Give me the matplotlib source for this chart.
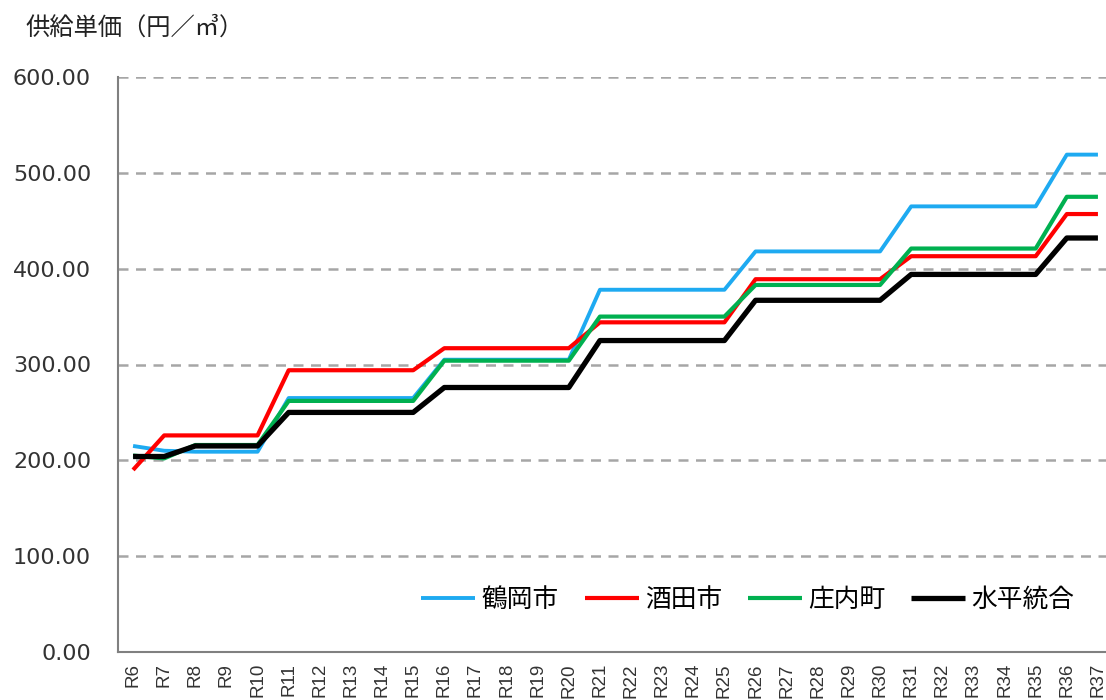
import matplotlib
matplotlib.use("Agg")
import matplotlib.pyplot as plt

plt.rcParams['font.family'] = ['Noto Sans CJK JP', 'DejaVu Sans']

#### Data ####
years = [f"R{i}" for i in range(6, 38)]

tsuruoka = [215, 210, 209, 209, 209,
            265, 265, 265, 265, 265,
            305, 305, 305, 305, 305,
            378, 378, 378, 378, 378,
            418, 418, 418, 418, 418,
            465, 465, 465, 465, 465,
            519, 519]
sakata = [190, 226, 226, 226, 226,
          294, 294, 294, 294, 294,
          317, 317, 317, 317, 317,
          344, 344, 344, 344, 344,
          389, 389, 389, 389, 389,
          413, 413, 413, 413, 413,
          457, 457]
shonai = [205, 202, 216, 216, 216,
          262, 262, 262, 262, 262,
          304, 304, 304, 304, 304,
          350, 350, 350, 350, 350,
          383, 383, 383, 383, 383,
          421, 421, 421, 421, 421,
          475, 475]
suihei = [204, 204, 215, 215, 215,
          250, 250, 250, 250, 250,
          276, 276, 276, 276, 276,
          325, 325, 325, 325, 325,
          367, 367, 367, 367, 367,
          394, 394, 394, 394, 394,
          432, 432]

series = [("鶴岡市", tsuruoka, "#1eaaf1", 2.8),
          ("酒田市", sakata, "#ff0000", 3.0),
          ("庄内町", shonai, "#00b050", 3.0),
          ("水平統合", suihei, "#000000", 3.8)]

yticks = [0, 100, 200, 300, 400, 500, 600]

#### Figure ####
fig = plt.figure(figsize=(11.06, 7.0), dpi=100)
ax = fig.add_axes([117.5/1106, 48/700, 996/1106, 575/700])

xs = list(range(len(years)))
for name, vals, col, lw in series:
    ax.plot(xs, vals, color=col, lw=lw, label=name, solid_capstyle="butt")

ax.set_xlim(-0.5, len(years) - 0.5)
ax.set_ylim(0, 600)
ax.set_yticks(yticks)
ax.set_yticklabels([f"{v:.2f}" for v in yticks], family="DejaVu Sans",
                   fontsize=16, color="#333333")
ax.set_xticks(xs)
ax.set_xticklabels(years, rotation=90, family="Liberation Sans",
                   fontsize=13.5, color="#333333")
ax.tick_params(axis="y", length=0, pad=19)
ax.tick_params(axis="x", length=0, pad=8)

for v in yticks[1:]:
    ax.axhline(v, color="#a6a6a6", lw=1.8, ls=(0, (4, 3)), zorder=0)

for s in ["top", "right"]:
    ax.spines[s].set_visible(False)
for s in ["left", "bottom"]:
    ax.spines[s].set_color("#808080")
    ax.spines[s].set_linewidth(1.5)

fig.text(25/1106, 1 - 28/700, "供給単価（円／㎥）", fontsize=17.5,
         va="center", ha="left", color="#222222")

ax.legend(loc="center", bbox_to_anchor=(748/1106, 1 - 600/700),
          bbox_transform=fig.transFigure, ncol=4, frameon=False,
          fontsize=18.5, handlelength=2.1, handletextpad=0.25,
          columnspacing=1.0)

fig.savefig("out.png", dpi=100)
